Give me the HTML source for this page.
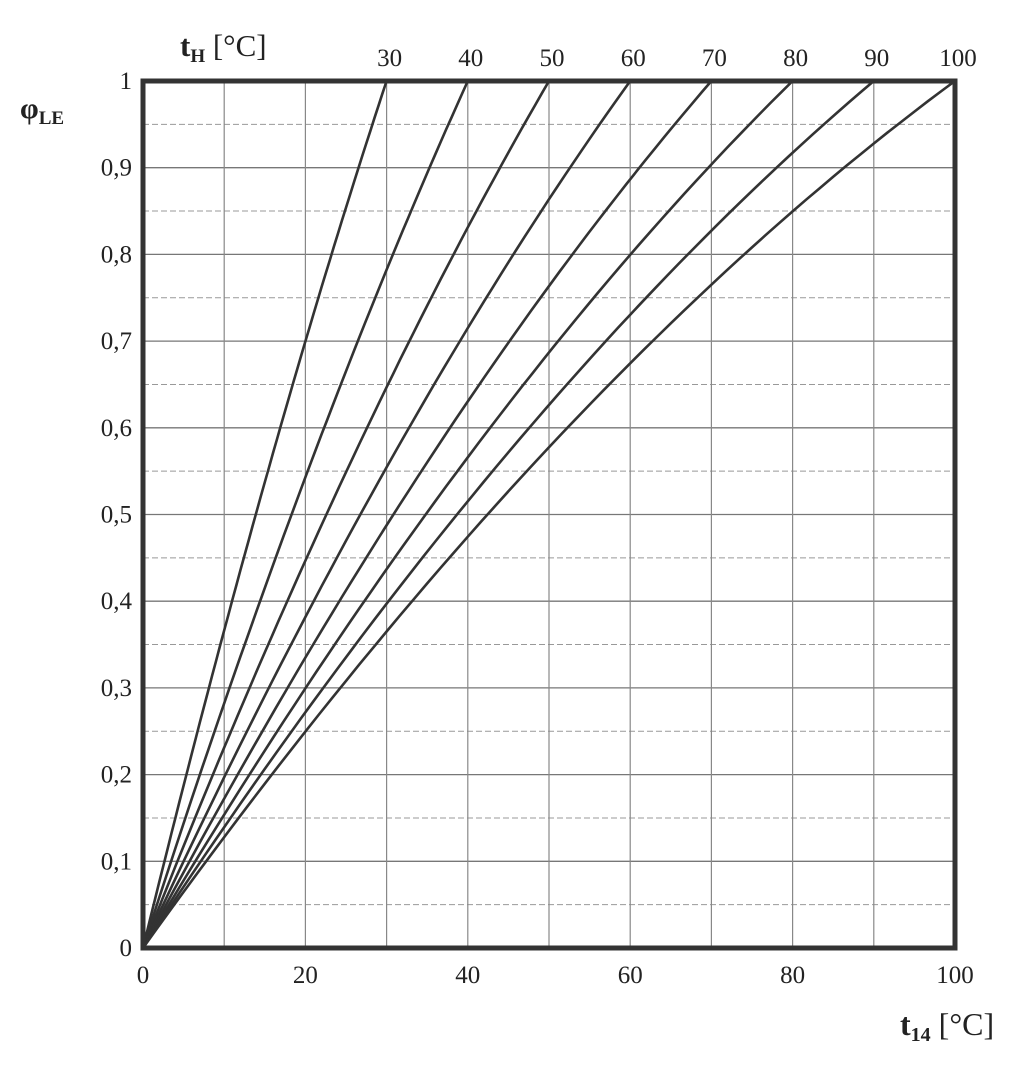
<!DOCTYPE html>
<html><head><meta charset="utf-8"><style>
html,body{margin:0;padding:0;background:#fff;}
svg{display:block;}
text{font-family:"Liberation Serif",serif;fill:#222;}
</style></head><body>
<svg id="s" width="1024" height="1068" viewBox="0 0 1024 1068" xmlns="http://www.w3.org/2000/svg">
<rect width="1024" height="1068" fill="#fff"/>
<g id="grid"></g>
<g id="curves" fill="none" stroke="#333" stroke-width="2.6"></g>
<rect x="143" y="81" width="812" height="867" fill="none" stroke="#333" stroke-width="5"/>
<text x="180" y="56" font-size="31" font-weight="bold">t<tspan font-size="19" dy="6">H</tspan><tspan dy="-6" font-weight="normal"> [°C]</tspan></text>
<text x="20" y="118" font-size="30" font-weight="bold">φ<tspan font-size="19" dy="6">LE</tspan></text>
<text x="900" y="1035" font-size="32" font-weight="bold">t<tspan font-size="20" dy="6">14</tspan><tspan dy="-6" font-weight="normal"> [°C]</tspan></text>
<g id="labels" font-size="25"></g>
</svg>
<script>
var ns="http://www.w3.org/2000/svg";
function X(t){return 143+t*8.12;}
function Y(p){return 948-p*867;}
function el(n,a,p,txt){var e=document.createElementNS(ns,n);for(var k in a)e.setAttribute(k,a[k]);if(txt!==undefined)e.textContent=txt;document.getElementById(p).appendChild(e);}
for(var i=1;i<20;i++){el("line",{x1:143,x2:955,y1:Y(i*0.05),y2:Y(i*0.05),stroke:i%2?"#999":"#777","stroke-width":i%2?1:1.3,"stroke-dasharray":i%2?"6 3":"none"},"grid");}
for(var i=1;i<10;i++){el("line",{x1:X(i*10),x2:X(i*10),y1:81,y2:948,stroke:"#888","stroke-width":1.2},"grid");}
for(var th=30;th<=100;th+=10){
 var k=0.08+0.0023*th,d="";
 for(var j=0;j<=60;j++){var u=j/60,t=u*th,p=u+k*u*(1-u);d+=(j?"L":"M")+X(t).toFixed(1)+","+Y(p).toFixed(1);}
 el("path",{d:d},"curves");
 el("text",{x:X(th)+3,y:66,"text-anchor":"middle"},"labels",String(th));
}
var yl=["0","0,1","0,2","0,3","0,4","0,5","0,6","0,7","0,8","0,9","1"];
for(var i=0;i<=10;i++)el("text",{x:132,y:Y(i/10)+8,"text-anchor":"end"},"labels",yl[i]);
for(var i=0;i<=5;i++)el("text",{x:X(i*20),y:983,"text-anchor":"middle"},"labels",String(i*20));
</script>
</body></html>
